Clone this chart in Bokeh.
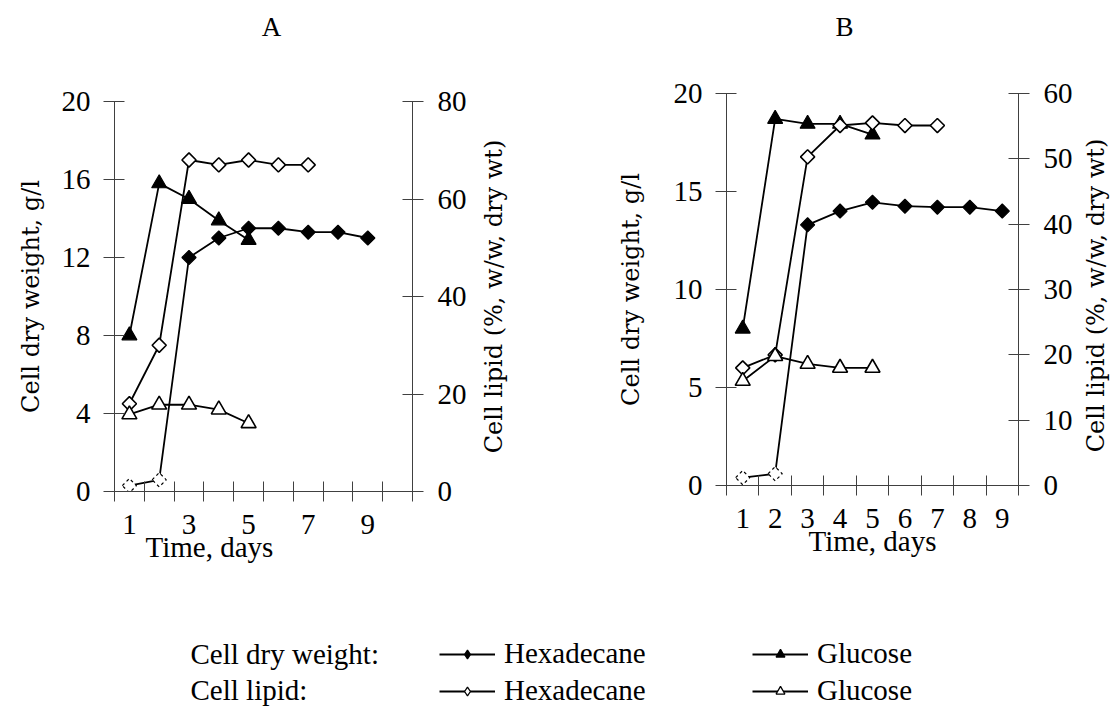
import numpy as np
from bokeh.plotting import figure
from bokeh.models import Range1d, LinearAxis, FixedTicker, Title, Legend, LegendItem, Label
from bokeh.layouts import row, column
from bokeh.embed import file_html
from bokeh.resources import INLINE

FONT = "Liberation Serif"
VFONT = "DejaVu Serif"   # serif face that renders correctly when rotated
AXC = "#404040"

# ---------------- data ----------------
# Panel A (days 1..10 on axis)
a_days_axis = 10
a_day_labels = [1, 3, 5, 7, 9]
a_dw_ticks = [0, 4, 8, 12, 16, 20]
a_lip_ticks = [0, 20, 40, 60, 80]
a_hex_dw = [0.3, 0.6, 12.0, 13.0, 13.5, 13.5, 13.3, 13.3, 13.0]
a_glc_dw = [8.0, 15.8, 15.0, 13.9, 12.9]
a_hex_lip = [18.0, 30.0, 68.0, 67.0, 68.0, 67.0, 67.0]
a_glc_lip = [15.8, 17.8, 17.8, 16.8, 14.0]

# Panel B (days 1..9 on axis)
b_days_axis = 9
b_day_labels = [1, 2, 3, 4, 5, 6, 7, 8, 9]
b_dw_ticks = [0, 5, 10, 15, 20]
b_lip_ticks = [0, 10, 20, 30, 40, 50, 60]
b_hex_dw = [0.4, 0.6, 13.3, 14.0, 14.45, 14.25, 14.2, 14.2, 14.0]
b_glc_dw = [8.0, 18.7, 18.45, 18.45, 17.9]
b_hex_lip = [18.0, 20.0, 50.3, 55.1, 55.5, 55.1, 55.1]
b_glc_lip = [16.0, 19.8, 18.6, 18.0, 18.0]

panel_titles = ["A", "B"]
y_left_title = "Cell dry weight, g/l"
y_right_title = "Cell lipid (%, w/w, dry wt)"
x_title = "Time, days"
legend_rows = ["Cell dry weight:", "Cell lipid:"]
legend_cols = ["Hexadecane", "Glucose"]

W, HT = 1112, 707
TOP_H = 50
MAIN_H = 577
LEG_H = HT - TOP_H - MAIN_H


def days_for(vals):
    return list(range(1, len(vals) + 1))


def blank(width, height):
    f = figure(width=width, height=height, x_range=Range1d(0, width),
               y_range=Range1d(0, height), x_axis_type=None, y_axis_type=None,
               output_backend="svg", toolbar_location=None, min_border=0,
               title=None, frame_align=False)
    f.grid.visible = False
    f.outline_line_color = None
    return f


def vstrip(width, text, cx, cy_page, fs="24px"):
    # narrow strip holding one vertical axis title (reads bottom to top)
    f = blank(width, MAIN_H)
    f.add_layout(Label(x=cx, y=MAIN_H - (cy_page - TOP_H), text=text,
                       angle=np.pi / 2, text_align="center", text_baseline="middle",
                       text_font=VFONT, text_font_size=fs, text_color="black"))
    return f


def style_axis(ax):
    ax.axis_line_color = AXC
    ax.axis_line_width = 1
    ax.major_tick_line_color = AXC
    ax.major_tick_in = 10
    ax.major_tick_out = 11
    ax.minor_tick_line_color = None
    ax.major_label_text_font = FONT
    ax.major_label_text_font_size = "29px"
    ax.major_label_text_color = "black"


def make_panel(n_axis, day_labels, dw_ticks, lip_ticks, hex_dw, glc_dw, hex_lip,
               glc_lip, x0, width, frame, xlabel_align, xlabel_offset, right_ls):
    fl, fr, ft, fb = frame
    p = figure(width=width, height=MAIN_H, x_range=Range1d(0.5, n_axis + 0.5),
               y_range=Range1d(dw_ticks[0], dw_ticks[-1]), output_backend="svg",
               toolbar_location=None, title=None, frame_align=False,
               min_border_left=fl - x0, min_border_right=x0 + width - fr,
               min_border_top=ft - TOP_H, min_border_bottom=TOP_H + MAIN_H - fb)
    p.extra_y_ranges = {"lip": Range1d(lip_ticks[0], lip_ticks[-1])}
    p.add_layout(LinearAxis(y_range_name="lip"), "right")
    p.grid.visible = False
    p.outline_line_color = None

    left = p.yaxis[0]
    style_axis(left)
    left.ticker = FixedTicker(ticks=dw_ticks)
    left.major_label_standoff = 13

    right = p.yaxis[1]
    style_axis(right)
    right.ticker = FixedTicker(ticks=lip_ticks)
    right.major_label_standoff = right_ls

    # x axis (category style: ticks between days)
    xa = p.xaxis[0]
    style_axis(xa)
    xa.ticker = FixedTicker(ticks=day_labels,
                            minor_ticks=list(np.arange(0.5, n_axis + 1.0, 1.0)))
    xa.major_tick_line_color = None
    xa.major_tick_in = 0
    xa.major_tick_out = 0
    xa.minor_tick_line_color = AXC
    xa.minor_tick_in = 10
    xa.minor_tick_out = 10
    xa.major_label_standoff = 13
    p.add_layout(Title(text=x_title, align=xlabel_align, offset=xlabel_offset,
                       standoff=-15, text_font=FONT, text_font_size="29px",
                       text_font_style="normal", text_color="black"), "below")

    lw = 1.8
    # cell dry weight, hexadecane (filled diamonds)
    p.line(days_for(hex_dw), hex_dw, line_color="black", line_width=lw)
    p.scatter(days_for(hex_dw)[2:], hex_dw[2:], marker="square", angle=np.pi / 4,
              size=10, fill_color="black", line_color="black", line_width=1.2)
    p.scatter(days_for(hex_dw)[:2], hex_dw[:2], marker="square", angle=np.pi / 4,
              size=10, fill_color="white", line_color="black", line_width=1.2,
              line_dash="3 3")
    # cell dry weight, glucose (filled triangles)
    p.line(days_for(glc_dw), glc_dw, line_color="black", line_width=lw)
    p.scatter(days_for(glc_dw), glc_dw, marker="triangle", size=15,
              fill_color="black", line_color="black", line_width=1.2)
    # cell lipid, hexadecane (open diamonds)
    p.line(days_for(hex_lip), hex_lip, line_color="black", line_width=lw,
           y_range_name="lip")
    p.scatter(days_for(hex_lip), hex_lip, marker="square", angle=np.pi / 4,
              size=10, fill_color="white", line_color="black", line_width=1.6,
              y_range_name="lip")
    # cell lipid, glucose (open triangles)
    p.line(days_for(glc_lip), glc_lip, line_color="black", line_width=lw,
           y_range_name="lip")
    p.scatter(days_for(glc_lip), glc_lip, marker="triangle", size=15,
              fill_color="white", line_color="black", line_width=1.6,
              y_range_name="lip")
    return p


# horizontal partition of the page: [A-left title | A | A-right title | B-left title | B | B-right title]
xs = [0, 50, 475, 512, 650, 1075, W]
sLA = vstrip(xs[1] - xs[0], y_left_title, 30 - xs[0], 296)
pA = make_panel(a_days_axis, a_day_labels, a_dw_ticks, a_lip_ticks,
                a_hex_dw, a_glc_dw, a_hex_lip, a_glc_lip, xs[1], xs[2] - xs[1],
                (114, 412, 101, 491), "left", 31, 14)
sRA = vstrip(xs[3] - xs[2], y_right_title, 493 - xs[2], 296)
sLB = vstrip(xs[4] - xs[3], y_left_title, 630 - xs[3], 289)
pB = make_panel(b_days_axis, b_day_labels, b_dw_ticks, b_lip_ticks,
                b_hex_dw, b_glc_dw, b_hex_lip, b_glc_lip, xs[4], xs[5] - xs[4],
                (726, 1018, 93, 485), "center", 0, 14)
sRB = vstrip(xs[6] - xs[5], y_right_title, 1095 - xs[5], 295)

# ---------------- panel titles strip ----------------
pT = blank(W, TOP_H)
for tx, txt in zip([271, 844], panel_titles):
    pT.add_layout(Label(x=tx, y=TOP_H - 26, text=txt, text_align="center",
                        text_baseline="middle", text_font=FONT,
                        text_font_size="27px", text_color="black"))

# ---------------- legend ----------------
pL = blank(W, LEG_H)
styles = {
    ("Cell dry weight:", "Hexadecane"): ("diamond", "black"),
    ("Cell dry weight:", "Glucose"): ("triangle", "black"),
    ("Cell lipid:", "Hexadecane"): ("diamond", "white"),
    ("Cell lipid:", "Glucose"): ("triangle", "white"),
}
col_x = {"Hexadecane": 439, "Glucose": 752}
for cname in legend_cols:
    items = []
    for rname in legend_rows:
        mk, fc = styles[(rname, cname)]
        rl = pL.line(x=[np.nan], y=[np.nan], line_color="black", line_width=1.8)
        rs = pL.scatter(x=[np.nan], y=[np.nan], marker=mk, size=10, fill_color=fc,
                        line_color="black", line_width=1.3)
        items.append(LegendItem(label=cname, renderers=[rl, rs]))
    lg = Legend(items=items, location=(col_x[cname], 0), orientation="vertical",
                border_line_color=None, background_fill_alpha=0, padding=0,
                margin=0, spacing=4, glyph_width=56, glyph_height=22,
                label_standoff=9, label_height=30, label_text_font=FONT,
                label_text_font_size="29px", label_text_color="black")
    pL.add_layout(lg)

row_pitch = 36
for i, rname in enumerate(legend_rows):
    pL.add_layout(Label(x=190, y=18 + row_pitch * (len(legend_rows) - 1 - i),
                        text=rname, text_baseline="middle", text_font=FONT,
                        text_font_size="29px", text_color="black"))

layout = column(pT, row(sLA, pA, sRA, sLB, pB, sRB), pL)
open("out.html", "w").write(file_html(layout, INLINE))
